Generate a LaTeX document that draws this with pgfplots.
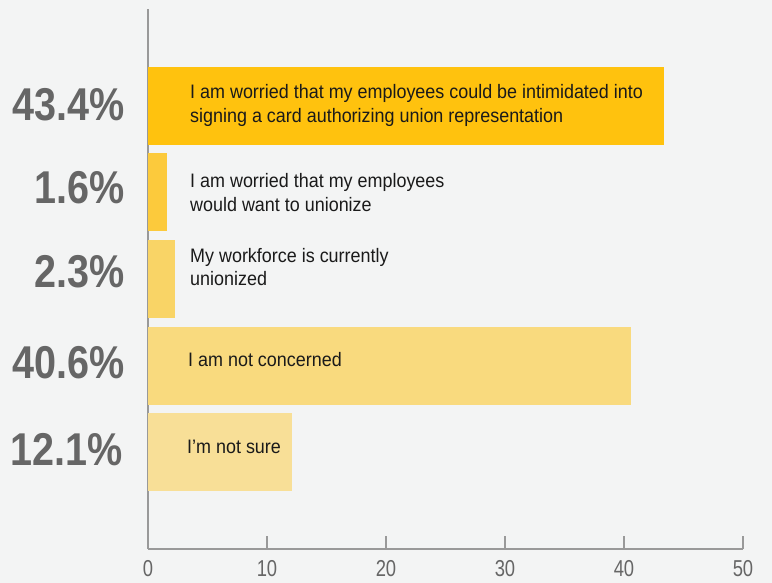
\documentclass[border=0pt]{standalone}
\usepackage{pgfplots}
\pgfplotsset{compat=1.18}
\usepackage{fontspec}
\setmainfont{Liberation Sans}
\newfontfamily\barfont{Liberation Sans}[FakeStretch=0.92]
\newfontfamily\pctfont{Liberation Sans}[FakeStretch=0.86]
\newfontfamily\tickfont{Liberation Sans}[FakeStretch=0.8]
\definecolor{bgc}{HTML}{F3F4F4}
\definecolor{cA}{HTML}{FFC20E}
\definecolor{cB}{HTML}{FCCA3C}
\definecolor{cC}{HTML}{F9D466}
\definecolor{cD}{HTML}{F9DA7E}
\definecolor{cE}{HTML}{F8DF97}
\definecolor{pctc}{HTML}{666666}
\definecolor{txtc}{HTML}{1A1A1A}
\definecolor{axc}{HTML}{999999}
\begin{document}
\begin{tikzpicture}
\fill[bgc] (-148pt,-34pt) rectangle (624pt,549pt);
\begin{axis}[
  at={(0pt,0pt)}, anchor=south west,
  scale only axis, width=595pt, height=540pt,
  xmin=0, xmax=50, ymin=-0.121, ymax=6.121,
  axis x line=bottom, axis y line=left,
  axis line style={-, draw=axc, line width=1.6pt},
  xtick={0,10,20,30,40,50}, ytick=\empty,
  tick align=inside, major tick length=13pt,
  tick style={draw=axc, line width=1.2pt},
  xticklabel style={font=\tickfont\fontsize{23}{23}\selectfont, text=pctc, inner sep=0pt, anchor=base, yshift=-28pt},
  /pgf/number format/assume math mode=true,
  clip=false,
  every axis plot/.append style={xbar, draw=none, bar width=78pt, bar shift=0pt},
]
\addplot[fill=cA] coordinates {(43.4,5)};
\addplot[fill=cB] coordinates {(1.6,4)};
\addplot[fill=cC] coordinates {(2.3,3)};
\addplot[fill=cD] coordinates {(40.6,2)};
\addplot[fill=cE] coordinates {(12.1,1)};

% percentage labels
\begin{scope}[every node/.style={anchor=east, inner sep=0pt, text=pctc, font=\pctfont\bfseries\fontsize{46}{46}\selectfont}]
\node[xshift=-23pt, yshift=1pt] at (axis cs:0,5) {43.4\%};
\node[xshift=-23pt, yshift=5pt] at (axis cs:0,4) {1.6\%};
\node[xshift=-23pt, yshift=7pt] at (axis cs:0,3) {2.3\%};
\node[xshift=-23pt, yshift=2.5pt] at (axis cs:0,2) {40.6\%};
\node[xshift=-25pt, yshift=2pt] at (axis cs:0,1) {12.1\%};
\end{scope}

% bar labels
\begin{scope}[every node/.style={anchor=base west, inner sep=0pt, text=txtc, font=\barfont\fontsize{19.5}{19.5}\selectfont}]
\node[xshift=42pt, yshift=7pt] at (axis cs:0,5) {I am worried that my employees could be intimidated into};
\node[xshift=42pt, yshift=-17pt] at (axis cs:0,5) {signing a card authorizing union representation};
\node[xshift=42pt, yshift=5pt] at (axis cs:0,4) {I am worried that my employees};
\node[xshift=42pt, yshift=-19pt] at (axis cs:0,4) {would want to unionize};
\node[xshift=42pt, yshift=16pt] at (axis cs:0,3) {My workforce is currently};
\node[xshift=42pt, yshift=-7pt] at (axis cs:0,3) {unionized};
\node[xshift=40pt, yshift=-1pt] at (axis cs:0,2) {I am not concerned};
\node[xshift=39pt, yshift=-1pt] at (axis cs:0,1) {I’m not sure};
\end{scope}
\end{axis}
\pgfresetboundingbox
\path (-148pt,-34pt) rectangle (624pt,549pt);
\end{tikzpicture}
\end{document}
